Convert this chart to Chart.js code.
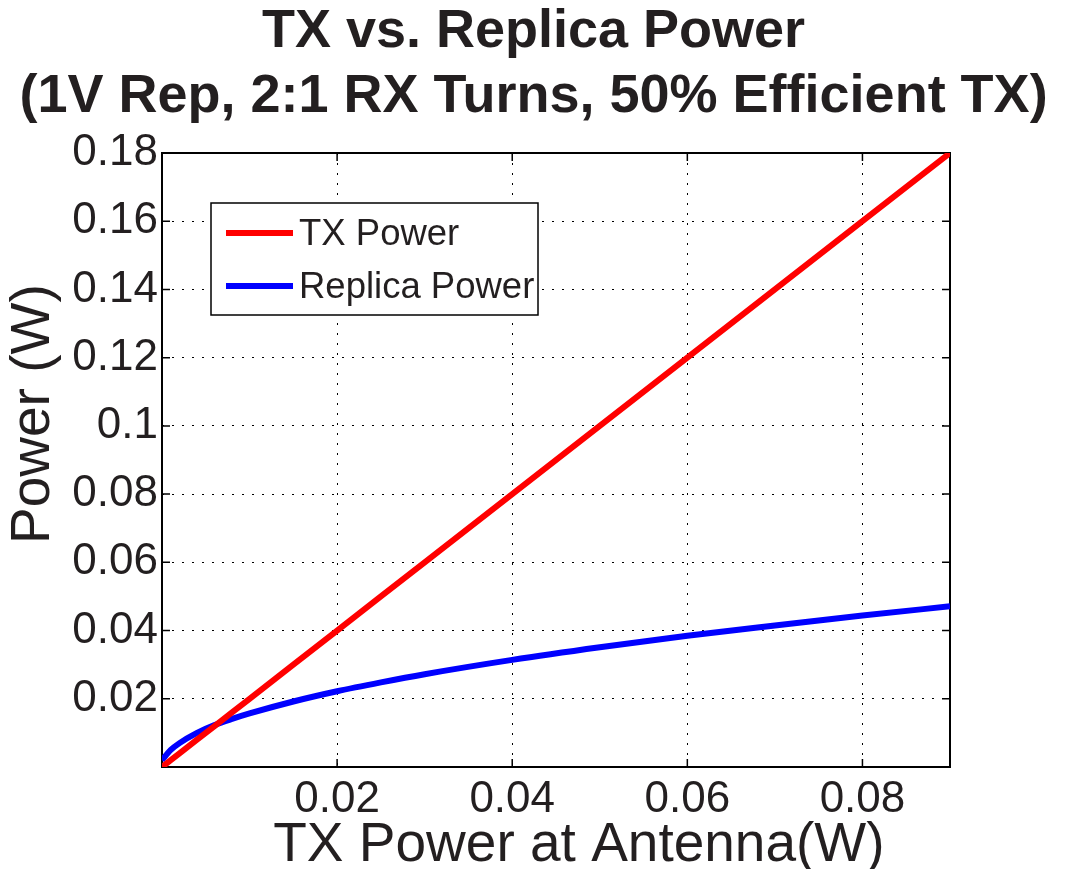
<!DOCTYPE html>
<html>
<head>
<meta charset="utf-8">
<script src="https://cdn.jsdelivr.net/npm/chart.js@4"></script>
<style>
  body { margin: 0; background: #fff; }
  #wrap { width: 1067px; height: 869px; }
</style>
</head>
<body>
<div id="wrap"><canvas id="powerChart" width="1067" height="869"></canvas></div>
<script>
// values
const txAntenna = [0, 0.001, 0.002, 0.004, 0.006, 0.008, 0.01, 0.015, 0.02, 0.025, 0.03, 0.04, 0.05, 0.06, 0.07, 0.08, 0.09];
const txPower = [0, 0.002, 0.004, 0.008, 0.012, 0.016, 0.02, 0.03, 0.04, 0.05, 0.06, 0.08, 0.1, 0.12, 0.14, 0.16, 0.18];
const replicaPower = [0.002, 0.005, 0.007, 0.010, 0.0123, 0.0141, 0.0157, 0.0192, 0.0222, 0.0248, 0.0272, 0.0314, 0.0351, 0.0385, 0.0415, 0.0444, 0.0471];
const xTicks = [0.02, 0.04, 0.06, 0.08];
const yTicks = [0.02, 0.04, 0.06, 0.08, 0.1, 0.12, 0.14, 0.16, 0.18];

const seriesNames = ['TX Power', 'Replica Power'];
const seriesColors = ['#ff0000', '#0000ff'];

const toPoints = ys => txAntenna.map((x, i) => ({ x: x, y: ys[i] }));

// frame + inward tick marks, matlab style
const framePlugin = {
  id: 'frame',
  beforeDatasetsDraw(chart) {
    const { ctx, chartArea: a, scales } = chart;
    ctx.save();
    ctx.strokeStyle = '#000';
    ctx.lineWidth = 1.5;
    const len = 8;
    ctx.beginPath();
    xTicks.forEach(v => {
      const px = scales.x.getPixelForValue(v);
      ctx.moveTo(px, a.bottom); ctx.lineTo(px, a.bottom - len);
      ctx.moveTo(px, a.top); ctx.lineTo(px, a.top + len);
    });
    yTicks.forEach(v => {
      const py = scales.y.getPixelForValue(v);
      ctx.moveTo(a.left, py); ctx.lineTo(a.left + len, py);
      ctx.moveTo(a.right, py); ctx.lineTo(a.right - len, py);
    });
    ctx.stroke();
    ctx.lineWidth = 2;
    ctx.strokeRect(a.left, a.top, a.right - a.left, a.bottom - a.top);
    ctx.restore();
  },
  afterDraw(chart) {
    // legend box inside the plot
    const { ctx, chartArea: a } = chart;
    const bx = a.left + 49, by = a.top + 50, bw = 327, bh = 112;
    ctx.save();
    ctx.fillStyle = '#fff';
    ctx.fillRect(bx, by, bw, bh);
    ctx.strokeStyle = '#000';
    ctx.lineWidth = 1.5;
    ctx.strokeRect(bx, by, bw, bh);
    ctx.font = '36.5px "Liberation Sans", Arial, sans-serif';
    ctx.textBaseline = 'middle';
    chart.data.datasets.forEach((ds, i) => {
      const y = by + 30 + i * 53;
      ctx.strokeStyle = ds.borderColor;
      ctx.lineWidth = 6;
      ctx.beginPath();
      ctx.moveTo(bx + 15, y);
      ctx.lineTo(bx + 82, y);
      ctx.stroke();
      ctx.fillStyle = '#231f20';
      ctx.fillText(ds.label, bx + 88, y + 2);
    });
    ctx.restore();
  }
};

const ctx = document.getElementById('powerChart').getContext('2d');
const powerChart = new Chart(ctx, {
  type: 'scatter',
  data: {
    datasets: [{
      label: seriesNames[0],
      data: toPoints(txPower),
      borderColor: seriesColors[0],
      backgroundColor: seriesColors[0],
      borderWidth: 6,
      showLine: true,
      pointRadius: 0
    },
    {
      label: seriesNames[1],
      data: toPoints(replicaPower),
      borderColor: seriesColors[1],
      backgroundColor: seriesColors[1],
      borderWidth: 6,
      showLine: true,
      pointRadius: 0,
      cubicInterpolationMode: 'monotone'
    }]
  },
  options: {
    responsive: false,
    animation: false,
    layout: { padding: 0 },
    plugins: {
      legend: { display: false },
      tooltip: { enabled: false },
      title: {
        display: true,
        text: ['TX vs. Replica Power', '(1V Rep, 2:1 RX Turns, 50% Efficient TX)'],
        color: '#231f20',
        font: { family: '"Liberation Sans", Arial, sans-serif', size: 54, weight: 'bold', lineHeight: 1.2 },
        padding: { top: 0, bottom: 23.4 }
      }
    },
    scales: {
      x: {
        type: 'linear',
        min: 0,
        max: 0.09,
        afterBuildTicks: s => { s.ticks = xTicks.map(v => ({ value: v })); },
        afterFit: s => { s.height = 102; },
        ticks: {
          color: '#231f20',
          padding: 6,
          font: { family: '"Liberation Sans", Arial, sans-serif', size: 44 },
          callback: v => String(v)
        },
        grid: { color: '#000', lineWidth: 1, drawTicks: false },
        border: { display: false, dash: [2, 8] },
        title: {
          display: true,
          text: '   TX Power at Antenna(W)',
          color: '#231f20',
          font: { family: '"Liberation Sans", Arial, sans-serif', size: 55, lineHeight: 0.85 },
          padding: { top: 0, bottom: 0 }
        }
      },
      y: {
        type: 'linear',
        min: 0,
        max: 0.18,
        afterBuildTicks: s => { s.ticks = yTicks.map(v => ({ value: v })); },
        afterFit: s => { s.width = 162; },
        ticks: {
          color: '#231f20',
          padding: 4,
          font: { family: '"Liberation Sans", Arial, sans-serif', size: 44 },
          callback: v => String(v)
        },
        grid: { color: '#000', lineWidth: 1, drawTicks: false },
        border: { display: false, dash: [2, 8] },
        title: {
          display: true,
          text: '      Power (W)',
          color: '#231f20',
          font: { family: '"Liberation Sans", Arial, sans-serif', size: 55, lineHeight: 1.0 },
          padding: { top: 6, bottom: 0 }
        }
      },
      // empty right-hand margin so the title centres on the whole page
      yRight: {
        type: 'linear',
        position: 'right',
        display: true,
        min: 0,
        max: 1,
        afterFit: s => { s.width = 117; },
        ticks: { display: false },
        grid: { display: false },
        border: { display: false }
      }
    }
  },
  plugins: [framePlugin]
});
</script>
</body>
</html>
